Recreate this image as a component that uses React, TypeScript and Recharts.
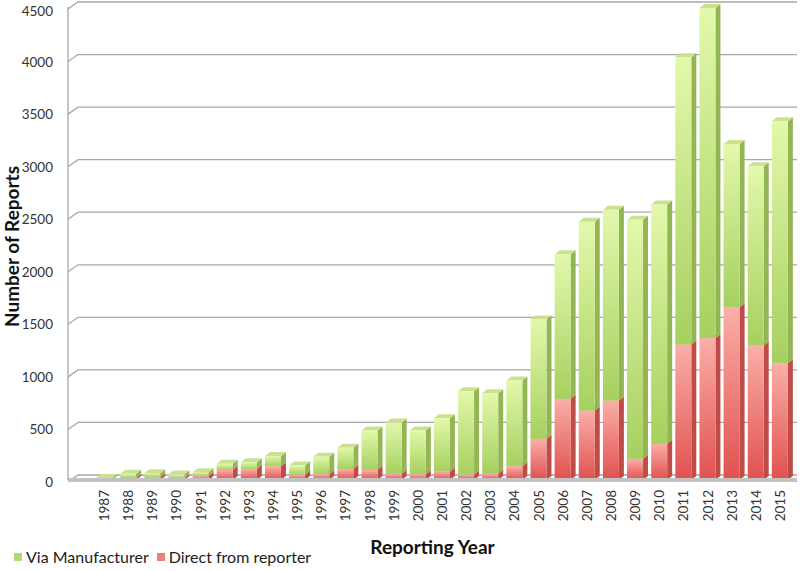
import React from 'react';
import { BarChart, Bar, XAxis, YAxis, CartesianGrid } from 'recharts';

const years = [
  '1987', '1988', '1989', '1990', '1991', '1992', '1993', '1994', '1995', '1996',
  '1997', '1998', '1999', '2000', '2001', '2002', '2003', '2004', '2005', '2006',
  '2007', '2008', '2009', '2010', '2011', '2012', '2013', '2014', '2015',
];
const directFromReporter = [
  0, 20, 27, 20, 40, 97, 106, 130, 52, 55,
  106, 97, 59, 55, 81, 52, 59, 131, 392, 772,
  661, 756, 202, 344, 1289, 1352, 1643, 1279, 1111,
];
const viaManufacturer = [
  20, 39, 38, 32, 34, 57, 63, 98, 86, 167,
  202, 374, 488, 416, 507, 793, 767, 815, 1134, 1376,
  1795, 1816, 2275, 2276, 2732, 3138, 1554, 1705, 2301,
];
const yTicks = [0, 500, 1000, 1500, 2000, 2500, 3000, 3500, 4000, 4500];

const data = years.map((year, i) => ({
  year,
  direct: directFromReporter[i],
  via: viaManufacturer[i],
}));

const FONT = 'Lato, "Open Sans", sans-serif';
const DEPTH_X = 5;
const DEPTH_Y = 4;

// front face + right side + top, a rough take on Excel's 3D column
const Column3D: React.FC<any> = (props) => {
  const { x, y, width, height, kind } = props;
  if (!height || height <= 0) return null;
  const side = kind === 'via' ? '#93b553' : '#c04c48';
  const top = kind === 'via' ? '#c9e191' : '#f2a09b';
  const r = x + width;
  return (
    <g>
      <path
        d={`M${r},${y} L${r + DEPTH_X},${y - DEPTH_Y} L${r + DEPTH_X},${y + height - DEPTH_Y} L${r},${y + height} Z`}
        fill={side}
      />
      <path
        d={`M${x},${y} L${x + DEPTH_X},${y - DEPTH_Y} L${r + DEPTH_X},${y - DEPTH_Y} L${r},${y} Z`}
        fill={top}
      />
      <rect x={x} y={y} width={width} height={height} fill={`url(#grad-${kind})`} />
    </g>
  );
};

const GridLine3D = (props: any) => {
  const { x1, x2, y1 } = props;
  return (
    <path
      key={props.key}
      d={`M${x1},${y1 + 2} L${x1 + 10},${y1 - 5} L${x2},${y1 - 5}`}
      fill="none"
      stroke="#a8a8a8"
      strokeWidth={1.3}
    />
  );
};

const YearTick = ({ x, y, payload }: any) => (
  <text
    x={x}
    y={y + 2}
    transform={`rotate(-90, ${x}, ${y + 2})`}
    textAnchor="end"
    dominantBaseline="central"
    fill="#333"
    fontSize={13.5}
    fontFamily={FONT}
  >
    {payload.value}
  </text>
);

const CountTick = ({ x, y, payload }: any) => (
  <text
    x={x}
    y={y + 2}
    textAnchor="end"
    dominantBaseline="central"
    fill="#333"
    fontSize={13.5}
    fontFamily={FONT}
  >
    {payload.value}
  </text>
);

const YTitle = ({ viewBox }: any) => {
  const cy = viewBox.y + viewBox.height / 2 + 3;
  return (
    <text
      x={11.5}
      y={cy}
      transform={`rotate(-90, 11.5, ${cy})`}
      textAnchor="middle"
      dominantBaseline="central"
      fill="#111"
      fontSize={19}
      fontWeight="bold"
      fontFamily={FONT}
    >
      Number of Reports
    </text>
  );
};

const legendItems = [
  { label: 'Via Manufacturer', color: '#b1d873' },
  { label: 'Direct from reporter', color: '#ef7f7b' },
];

const App: React.FC = () => {
  return (
    <div style={{ position: 'absolute', left: 0, top: 0, width: 800, height: 571, background: '#fff' }}>
      <BarChart
        width={800}
        height={571}
        data={data}
        margin={{ top: 7, right: 3, left: 0, bottom: 0 }}
        barSize={16}
      >
        <defs>
          <linearGradient id="grad-via" x1="0" y1="0" x2="0" y2="1">
            <stop offset="0%" stopColor="#e3f8ab" />
            <stop offset="100%" stopColor="#a6d05f" />
          </linearGradient>
          <linearGradient id="grad-direct" x1="0" y1="0" x2="0" y2="1">
            <stop offset="0%" stopColor="#fbaea8" />
            <stop offset="100%" stopColor="#e0514e" />
          </linearGradient>
        </defs>
        <CartesianGrid vertical={false} horizontal={GridLine3D} />
        <XAxis
          dataKey="year"
          interval={0}
          height={91}
          padding={{ left: 24, right: 5 }}
          axisLine={{ stroke: '#c2c2c2', strokeWidth: 4 }}
          tickLine={false}
          tick={<YearTick />}
          label={{
            value: 'Reporting Year',
            position: 'insideBottom',
            offset: 17,
            fill: '#111',
            fontSize: 19,
            fontWeight: 'bold',
            fontFamily: FONT,
          }}
        />
        <YAxis
          domain={[0, 4500]}
          ticks={yTicks}
          width={68}
          axisLine={{ stroke: '#a8a8a8', strokeWidth: 1.3 }}
          tickLine={false}
          tickSize={0}
          tickMargin={15}
          tick={<CountTick />}
          label={<YTitle />}
        />
        <Bar
          dataKey="direct"
          stackId="reports"
          name="Direct from reporter"
          isAnimationActive={false}
          shape={(p: any) => <Column3D {...p} kind="direct" />}
        />
        <Bar
          dataKey="via"
          stackId="reports"
          name="Via Manufacturer"
          isAnimationActive={false}
          shape={(p: any) => <Column3D {...p} kind="via" />}
        />
      </BarChart>
      <div
        style={{
          position: 'absolute',
          left: 14,
          top: 547,
          display: 'flex',
          alignItems: 'center',
          fontFamily: FONT,
          fontSize: 16,
          color: '#222',
          whiteSpace: 'nowrap',
        }}
      >
        {legendItems.map((item) => (
          <span key={item.label} style={{ display: 'flex', alignItems: 'center', marginRight: 8 }}>
            <span style={{ width: 8, height: 8, background: item.color, marginRight: 4, display: 'inline-block' }} />
            {item.label}
          </span>
        ))}
      </div>
    </div>
  );
};

export default App;
